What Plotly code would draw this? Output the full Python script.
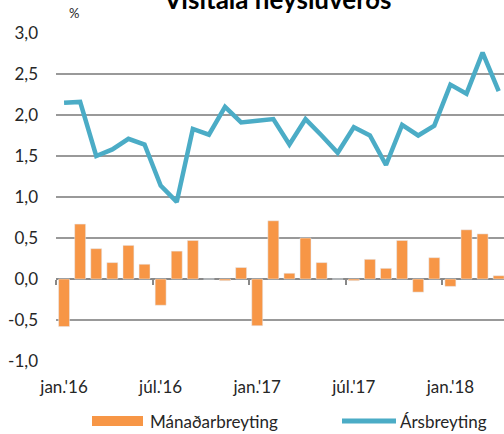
import plotly.graph_objects as go

months = ["jan.'16", "feb.'16", "mar.'16", "apr.'16", "maí.'16", "jún.'16",
          "júl.'16", "ágú.'16", "sep.'16", "okt.'16", "nóv.'16", "des.'16",
          "jan.'17", "feb.'17", "mar.'17", "apr.'17", "maí.'17", "jún.'17",
          "júl.'17", "ágú.'17", "sep.'17", "okt.'17", "nóv.'17", "des.'17",
          "jan.'18", "feb.'18", "mar.'18", "apr.'18"]
monthly = [-0.58, 0.67, 0.37, 0.20, 0.41, 0.18, -0.32, 0.34, 0.47, 0.0, -0.02, 0.14,
           -0.57, 0.71, 0.07, 0.50, 0.20, 0.0, -0.02, 0.24, 0.13, 0.47, -0.16, 0.26,
           -0.09, 0.60, 0.55, 0.04]
annual = [2.15, 2.16, 1.50, 1.58, 1.71, 1.64, 1.14, 0.94, 1.83, 1.76, 2.10, 1.91,
          1.93, 1.95, 1.64, 1.95, 1.75, 1.54, 1.85, 1.75, 1.39, 1.88, 1.75, 1.87,
          2.37, 2.26, 2.76, 2.29]
x_tick_labels = ["jan.'16", "júl.'16", "jan.'17", "júl.'17", "jan.'18"]
y_tick_vals = [-1.0, -0.5, 0.0, 0.5, 1.0, 1.5, 2.0, 2.5, 3.0]
y_tick_text = ["-1,0", "-0,5", "0,0", "0,5", "1,0", "1,5", "2,0", "2,5", "3,0"]
title_text = "Vísitala neysluverðs"
series_names = ["Mánaðarbreyting", "Ársbreyting"]

ORANGE = "#F79646"
TEAL = "#4BACC6"
GRID = "#999999"
TXT = "#262626"
FONT = "Lato"
FS = 17

xr = [-0.5, 27.33]

fig = go.Figure()
fig.add_trace(go.Bar(x=months, y=monthly, name=series_names[0], marker_color=ORANGE,
                     width=0.68, showlegend=False))
fig.add_trace(go.Scatter(x=months, y=annual, name=series_names[1], mode="lines",
                         line=dict(color=TEAL, width=4.5), showlegend=False))
# invisible trace so the boundary-tick axis is drawn
fig.add_trace(go.Scatter(x=[0], y=[0], xaxis="x2", mode="markers",
                         marker=dict(opacity=0), showlegend=False, hoverinfo="skip"))

fig.update_layout(
    width=504, height=434,
    margin=dict(l=56, r=0, t=33, b=73),
    paper_bgcolor="white", plot_bgcolor="white",
    font=dict(family=FONT, size=FS, color=TXT),
    xaxis=dict(type="category", range=xr, tickvals=x_tick_labels, ticktext=x_tick_labels,
               showgrid=False, zeroline=False, showline=False,
               ticks="outside", ticklen=11, tickcolor="rgba(0,0,0,0)",
               tickfont=dict(size=FS, color=TXT)),
    xaxis2=dict(overlaying="x", anchor="free", position=0.25, range=xr,
                tickvals=[-0.5, 5.5, 11.5, 17.5, 23.5], ticks="outside", ticklen=5,
                tickwidth=1.5, tickcolor="#888888", showticklabels=False,
                showgrid=False, zeroline=False, showline=False),
    yaxis=dict(range=[-1.0, 3.0], tickvals=y_tick_vals, ticktext=y_tick_text,
               showgrid=True, gridcolor=GRID, gridwidth=1.5,
               zeroline=True, zerolinecolor="#888888", zerolinewidth=1.5,
               showline=False, ticklabelstandoff=17,
               tickfont=dict(size=FS, color=TXT)),
)

# title (clipped at top like the reference)
fig.add_annotation(text="<b>" + title_text + "</b>", xref="paper", yref="paper",
                   x=0.494, y=1.048, xanchor="center", yanchor="bottom",
                   showarrow=False, font=dict(size=26, color="#000000", family=FONT))
fig.add_annotation(text="%", xref="paper", yref="paper", x=0.040, y=1.062,
                   xanchor="center", yanchor="middle", showarrow=False,
                   font=dict(size=13, color=TXT, family=FONT))

# custom legend (paper coords relative to plot area)
def px_x(p):
    return (p - 56) / 448.0

def px_y(p):
    return (361 - p) / 328.0

fig.add_shape(type="rect", xref="paper", yref="paper",
              x0=px_x(92), x1=px_x(143), y0=px_y(426), y1=px_y(416),
              fillcolor=ORANGE, line=dict(width=0))
fig.add_annotation(text=series_names[0], xref="paper", yref="paper",
                   x=px_x(148), y=px_y(421), xanchor="left", yanchor="middle",
                   showarrow=False, font=dict(size=FS, color=TXT, family=FONT))
fig.add_shape(type="line", xref="paper", yref="paper",
              x0=px_x(342), x1=px_x(396), y0=px_y(421), y1=px_y(421),
              line=dict(color=TEAL, width=5))
fig.add_annotation(text=series_names[1], xref="paper", yref="paper",
                   x=px_x(398), y=px_y(421), xanchor="left", yanchor="middle",
                   showarrow=False, font=dict(size=FS, color=TXT, family=FONT))

fig.write_html("out.html",
               config={"displayModeBar": False},
               post_script="document.body.style.margin='0px';"
                           "document.body.style.overflow='hidden';")
